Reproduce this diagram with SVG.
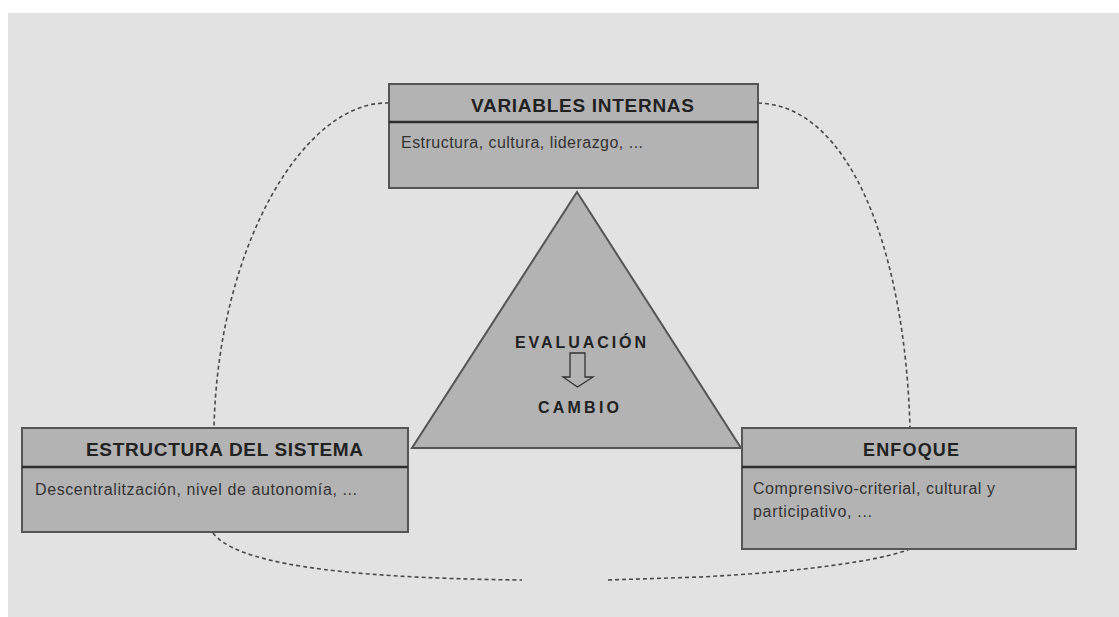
<svg xmlns="http://www.w3.org/2000/svg" width="1119" height="617" viewBox="0 0 1119 617">
<style>
.box{fill:#b3b3b3;stroke:#555;stroke-width:2}
.div{stroke:#2e2e2e;stroke-width:2.5}
.hd{font-family:"Liberation Sans",Arial,sans-serif;font-weight:bold;fill:#222}
.bd{font-family:"Liberation Sans",Arial,sans-serif;font-size:16px;fill:#333}
.con{fill:none;stroke:#4a4a4a;stroke-width:1.6;stroke-dasharray:4 3}
</style>
<rect x="0" y="0" width="1119" height="617" fill="#ffffff"/>
<rect x="8" y="13" width="1111" height="604" fill="#e2e2e2"/>
<g id="connectors">
<path class="con" d="M389,103 C305,100 218,245 214,428"/>
<path class="con" d="M758,103 C850,105 905,250 910,428"/>
<path class="con" d="M213,533 C235,562 330,578 522,580"/>
<path class="con" d="M608,580 L700,577 C800,572 880,561 910,549"/>
</g>
<g id="triangle">
<polygon points="577,192 412,448 741,448" fill="#b3b3b3" stroke="#555" stroke-width="2"/>
<text class="hd" x="515" y="348" font-size="16" textLength="131" lengthAdjust="spacing">EVALUACIÓN</text>
<path d="M570,353 H585 V377 H593 L577.5,387 L563,377 H570 Z" fill="#b3b3b3" stroke="#333" stroke-width="1.3"/>
<text class="hd" x="538" y="413" font-size="16" textLength="81" lengthAdjust="spacing">CAMBIO</text>
</g>
<g id="variables-internas">
<rect class="box" x="389" y="84" width="369" height="104"/>
<line class="div" x1="389" y1="122" x2="758" y2="122"/>
<text class="hd" x="471" y="112" font-size="19" textLength="223" lengthAdjust="spacing">VARIABLES INTERNAS</text>
<text class="bd" x="401" y="148" textLength="242" lengthAdjust="spacing">Estructura, cultura, liderazgo, ...</text>
</g>
<g id="estructura-del-sistema">
<rect class="box" x="22" y="428" width="386" height="104"/>
<line class="div" x1="22" y1="467" x2="408" y2="467"/>
<text class="hd" x="86" y="456" font-size="19" textLength="277" lengthAdjust="spacing">ESTRUCTURA DEL SISTEMA</text>
<text class="bd" x="35" y="495" textLength="322" lengthAdjust="spacing">Descentralitzación, nivel de autonomía, ...</text>
</g>
<g id="enfoque">
<rect class="box" x="742" y="428" width="334" height="121"/>
<line class="div" x1="742" y1="467" x2="1076" y2="467"/>
<text class="hd" x="863" y="456" font-size="18" textLength="96" lengthAdjust="spacing">ENFOQUE</text>
<text class="bd" x="753" y="494" textLength="242" lengthAdjust="spacing">Comprensivo-criterial, cultural y</text>
<text class="bd" x="753" y="517" textLength="119" lengthAdjust="spacing">participativo, ...</text>
</g>
</svg>
